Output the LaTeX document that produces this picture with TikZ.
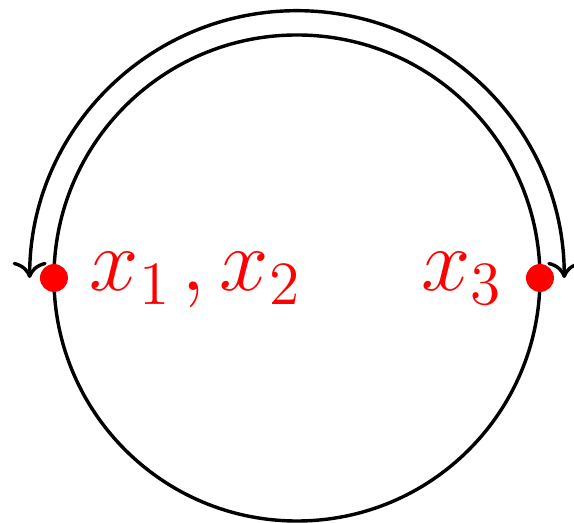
\documentclass[tikz,border=0pt]{standalone}
\usepackage{amsmath}
\usetikzlibrary{arrows.meta}
\begin{document}
\begin{tikzpicture}[
  pt/.style={circle,fill=red,inner sep=0pt,minimum size=2.3mm},
  lbl/.style={text=red,inner sep=0pt,anchor=base west,font=\fontsize{21.5}{26}\selectfont},
  sweep/.style={thick,-{To[length=3.8pt,width=8pt]}}]
\useasboundingbox (-2.444,-2.016) rectangle (2.280,2.288);
\draw[thick] (0,0) circle (2);
% the two arcs from the top
\coordinate (top) at (90:2.2);
\draw[sweep] (top) arc (90:180:2.2);
\draw[sweep] (top) arc (90:0:2.2);
\node[pt] (p12) at (180:2) {};
\node[pt] (p3) at (0:2) {};
\node[lbl] (l12) at (-1.712,-0.107) {$x_1\mkern2mu, x_2$};
\node[lbl] (l3) at (1.017,-0.107) {$x_3$};
\end{tikzpicture}
\end{document}
